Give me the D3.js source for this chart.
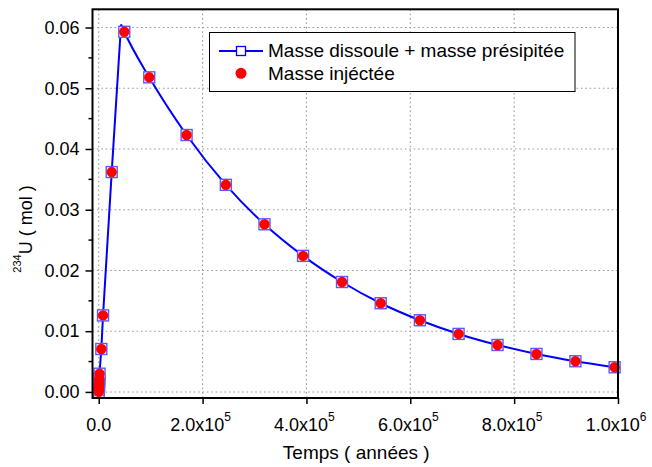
<!DOCTYPE html>
<html>
<head>
<meta charset="utf-8">
<script src="https://cdn.jsdelivr.net/npm/d3@7"></script>
<style>
  body { margin: 0; background: #fff; }
  svg { display: block; }
  text { font-family: Arial, "Liberation Sans", sans-serif; fill: #000; }
</style>
</head>
<body>
<svg id="chart" width="652" height="467"></svg>
<script>
// Sampled times (years) where both masses were recorded
const sampleTime = [0, 200, 400, 600, 800, 1000, 1500, 5000, 8300, 25000, 49200, 97300,
  169200, 244800, 319200, 393500, 468500, 543000, 618500, 693000, 768000, 843000, 918000, 993500];
// Dissolved + precipitated mass of 234U (mol)
const dissolvedPlusPrecipitated = [0, 0.0004, 0.0008, 0.0012, 0.0017, 0.0022, 0.0030, 0.00707,
  0.0126, 0.0362, 0.0593, 0.0518, 0.0423, 0.0341, 0.0276, 0.0224, 0.0181, 0.0146, 0.0118,
  0.00955, 0.00773, 0.00625, 0.00505, 0.00406];
// Injected mass of 234U (mol)
const injectedMass = [0, 0.0004, 0.0008, 0.0012, 0.0017, 0.0022, 0.0030, 0.00707,
  0.0126, 0.0362, 0.0593, 0.0518, 0.0423, 0.0341, 0.0276, 0.0224, 0.0181, 0.0146, 0.0118,
  0.00955, 0.00773, 0.00625, 0.00505, 0.00406];
// Continuous dissolved + precipitated curve (includes the injection peak)
const curveTime = [0, 200, 400, 600, 800, 1000, 1500, 5000, 8300, 25000, 43000, 49200, 97300,
  169200, 244800, 319200, 393500, 468500, 543000, 618500, 693000, 768000, 843000, 918000, 993500];
const curveMass = [0, 0.0004, 0.0008, 0.0012, 0.0017, 0.0022, 0.0030, 0.00707,
  0.0126, 0.0362, 0.0605, 0.0593, 0.0518, 0.0423, 0.0341, 0.0276, 0.0224, 0.0181, 0.0146, 0.0118,
  0.00955, 0.00773, 0.00625, 0.00505, 0.00406];

const xTickValues = [0, 200000, 400000, 600000, 800000, 1000000];
const xTickMantissa = ["0.0", "2.0", "4.0", "6.0", "8.0", "1.0"];
const xTickExponent = [null, "5", "5", "5", "5", "6"];
const yTickValues = [0, 0.01, 0.02, 0.03, 0.04, 0.05, 0.06];
const yTickLabels = ["0.00", "0.01", "0.02", "0.03", "0.04", "0.05", "0.06"];
const yMinorTicks = [0.005, 0.015, 0.025, 0.035, 0.045, 0.055];
const seriesNames = ["Masse dissoule + masse présipitée", "Masse injéctée"];

const svg = d3.select("#chart");
const L = 92.5, R = 618, T = 9.3, B = 398;

const x = d3.scaleLinear().domain([-12000, 1000000]).range([L, R]);
const y = d3.scaleLinear().domain([-0.001, 0.063]).range([B, T]);

// Dotted grid
const grid = svg.append("g").attr("stroke", "#9a9a9a").attr("stroke-width", 1.1)
  .attr("stroke-dasharray", "1.6,2.8");
grid.selectAll("line.gx").data(xTickValues.slice(0, -1)).join("line")
  .attr("x1", d => x(d)).attr("x2", d => x(d)).attr("y1", T).attr("y2", B);
grid.selectAll("line.gy").data(yTickValues).join("line")
  .attr("x1", L).attr("x2", R).attr("y1", d => y(d)).attr("y2", d => y(d));

// Curve: straight rise up to the peak, smooth decay afterwards
const pts = curveTime.map((t, i) => [t, curveMass[i]]);
const peak = d3.maxIndex(curveMass);
const riseLine = d3.line().x(d => x(d[0])).y(d => y(d[1]));
const decayLine = d3.line().x(d => x(d[0])).y(d => y(d[1])).curve(d3.curveMonotoneX);
const curveG = svg.append("g").attr("fill", "none").attr("stroke", "#0000ff")
  .attr("stroke-width", 2).attr("stroke-linejoin", "round");
curveG.append("path").attr("d", riseLine(pts.slice(0, peak + 1)));
curveG.append("path").attr("d", decayLine(pts.slice(peak)));

// Open square markers
const sq = 11;
svg.append("g").selectAll("rect")
  .data(sampleTime.map((t, i) => [t, dissolvedPlusPrecipitated[i]]))
  .join("rect")
  .attr("x", d => x(d[0]) - sq / 2).attr("y", d => y(d[1]) - sq / 2)
  .attr("width", sq).attr("height", sq)
  .attr("fill", "#fff").attr("stroke", "#5a5aff").attr("stroke-width", 1.4);

// Filled circle markers
svg.append("g").selectAll("circle")
  .data(sampleTime.map((t, i) => [t, injectedMass[i]]))
  .join("circle")
  .attr("cx", d => x(d[0])).attr("cy", d => y(d[1])).attr("r", 5.2)
  .attr("fill", "#ff0000");

// Axes
const xAxis = svg.append("g").attr("transform", `translate(0,${B})`)
  .call(d3.axisBottom(x).tickValues(xTickValues).tickSize(6).tickFormat(""));
xAxis.select(".domain").remove();
xAxis.selectAll(".tick line").attr("stroke", "#000").attr("stroke-width", 1.5);
const xl = svg.append("g").selectAll("text").data(xTickValues).join("text")
  .attr("x", (d, i) => x(d) + (xTickExponent[i] ? -2 : 0))
  .attr("y", 431).attr("text-anchor", "middle").attr("font-size", 18);
xl.append("tspan").text((d, i) => xTickMantissa[i] + (xTickExponent[i] ? "x10" : ""));
xl.filter((d, i) => xTickExponent[i]).append("tspan")
  .attr("font-size", 12).attr("dy", -10).text(d => xTickExponent[xTickValues.indexOf(d)]);

const yAxis = svg.append("g").attr("transform", `translate(${L},0)`)
  .call(d3.axisLeft(y).tickValues(yTickValues).tickSize(7).tickPadding(6)
    .tickFormat((d, i) => yTickLabels[i]));
yAxis.select(".domain").remove();
yAxis.selectAll(".tick line").attr("stroke", "#000").attr("stroke-width", 1.5);
yAxis.selectAll(".tick text").attr("font-size", 18).attr("font-family", "Arial, 'Liberation Sans', sans-serif");

svg.append("g").selectAll("line").data(yMinorTicks).join("line")
  .attr("x1", L - 4).attr("x2", L).attr("y1", d => y(d)).attr("y2", d => y(d))
  .attr("stroke", "#000").attr("stroke-width", 1.5);

// Frame
svg.append("rect").attr("x", L).attr("y", T).attr("width", R - L).attr("height", B - T)
  .attr("fill", "none").attr("stroke", "#000").attr("stroke-width", 2);

// Axis titles
svg.append("text").attr("x", (L + R) / 2 + 1).attr("y", 459).attr("text-anchor", "middle")
  .attr("font-size", 19).text("Temps ( années )");
const yt = svg.append("text").attr("transform", "translate(32,229) rotate(-90)")
  .attr("text-anchor", "middle").attr("font-size", 18);
yt.append("tspan").attr("font-size", 11).attr("dy", -11).text("234");
yt.append("tspan").attr("dy", 11).text("U ( mol )");

// Legend
const lg = svg.append("g");
lg.append("rect").attr("x", 209.5).attr("y", 32.5).attr("width", 365.5).attr("height", 59)
  .attr("fill", "#fff").attr("stroke", "#000").attr("stroke-width", 1);
lg.append("line").attr("x1", 219).attr("x2", 263).attr("y1", 51).attr("y2", 51)
  .attr("stroke", "#0000ff").attr("stroke-width", 2);
lg.append("rect").attr("x", 236.5).attr("y", 46.5).attr("width", 9).attr("height", 9)
  .attr("fill", "#fff").attr("stroke", "#0000ff").attr("stroke-width", 1.3);
lg.append("circle").attr("cx", 241).attr("cy", 73.3).attr("r", 5.5).attr("fill", "#ff0000");
lg.selectAll("text.lt").data(seriesNames).join("text")
  .attr("x", 268).attr("y", (d, i) => 57 + i * 22.5).attr("font-size", 19).text(d => d);
</script>
</body>
</html>
